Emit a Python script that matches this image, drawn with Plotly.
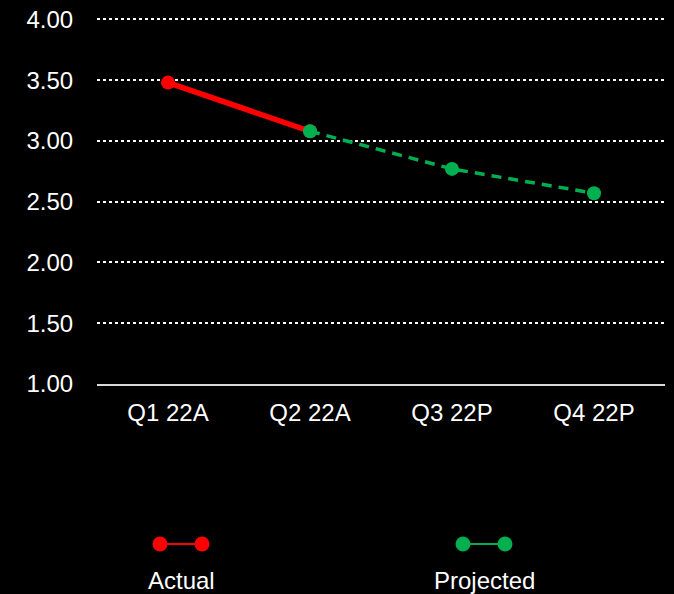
import plotly.graph_objects as go

# Quarterly values: reported (actual) and forecast (projected)
quarters = ["Q1 22A", "Q2 22A", "Q3 22P", "Q4 22P"]
actual = [3.48, 3.08, None, None]
projected = [None, 3.08, 2.77, 2.57]
y_ticks = [1.0, 1.5, 2.0, 2.5, 3.0, 3.5, 4.0]

RED = "#ff0000"
GREEN = "#00b050"
FONT = "Liberation Sans, Arial, sans-serif"
FS = 24

fig = go.Figure()
fig.add_trace(go.Scatter(
    x=quarters, y=actual, mode="lines+markers", name="Actual",
    line=dict(color=RED, width=5.5), marker=dict(color=RED, size=14),
    connectgaps=False,
))
fig.add_trace(go.Scatter(
    x=quarters, y=projected, mode="lines+markers", name="Projected",
    line=dict(color=GREEN, width=3.5, dash="10px,7px"), marker=dict(color=GREEN, size=14),
    connectgaps=False,
))

# Custom legend beneath the chart: line with dots on each end, label underneath
legend_items = [("Actual", RED, 160, 202), ("Projected", GREEN, 463, 505)]
L, R, T, B = 97, 9, 17, 210
W, H = 674, 594
pw, ph = W - L - R, H - T - B


def px_x(x):
    return (x - L) / pw


def px_y(y):
    return (H - B - y) / ph


shapes = []
annotations = []
for label, color, x0, x1 in legend_items:
    yc = 544
    shapes.append(dict(type="line", xref="paper", yref="paper",
                       x0=px_x(x0), x1=px_x(x1), y0=px_y(yc), y1=px_y(yc),
                       line=dict(color=color, width=2)))
    for xc in (x0, x1):
        shapes.append(dict(type="circle", xref="paper", yref="paper",
                           xsizemode="pixel", ysizemode="pixel",
                           xanchor=px_x(xc), yanchor=px_y(yc),
                           x0=-7.5, x1=7.5, y0=-7.5, y1=7.5,
                           fillcolor=color, line=dict(color=color, width=0)))
    annotations.append(dict(text=label, xref="paper", yref="paper",
                            x=px_x((x0 + x1) / 2), y=px_y(580),
                            xanchor="center", yanchor="middle", showarrow=False,
                            font=dict(family=FONT, size=FS, color="white")))

fig.update_layout(
    width=W, height=H,
    paper_bgcolor="black", plot_bgcolor="black",
    margin=dict(l=L, r=R, t=T, b=B),
    showlegend=False,
    shapes=shapes, annotations=annotations,
    font=dict(family=FONT, size=FS, color="white"),
)
fig.update_xaxes(
    type="category", range=[-0.5, 3.5], automargin=False,
    showgrid=False, showline=True, linecolor="#d9d9d9", linewidth=2,
    ticks="outside", ticklen=6, tickcolor="rgba(0,0,0,0)",
    tickfont=dict(family=FONT, size=FS, color="white"), zeroline=False,
)
fig.update_yaxes(
    range=[1.0, 4.02], tickvals=y_ticks, ticktext=[f"{v:.2f}" for v in y_ticks],
    automargin=False,
    showgrid=True, gridcolor="white", gridwidth=1.5, griddash="dot",
    zeroline=False, showline=False,
    ticks="outside", ticklen=18, tickcolor="rgba(0,0,0,0)",
    tickfont=dict(family=FONT, size=FS, color="white"),
)

fig.write_html("out.html")
